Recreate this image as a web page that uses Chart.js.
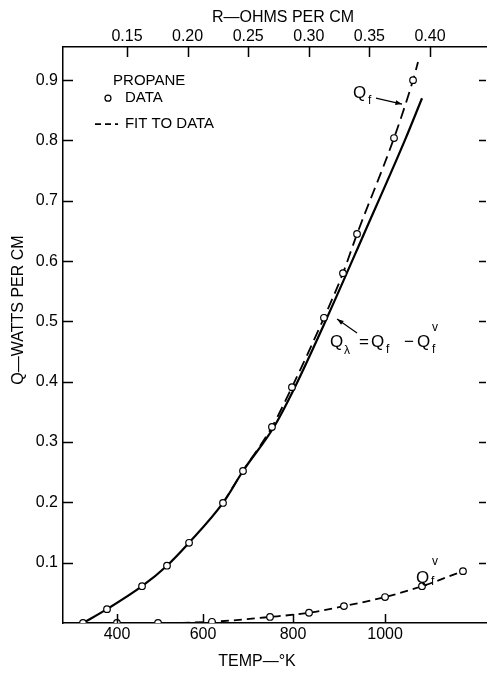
<!DOCTYPE html>
<html><head><meta charset="utf-8">
<script src="https://cdn.jsdelivr.net/npm/chart.js@4/dist/chart.umd.min.js"></script>
<style>html,body{margin:0;padding:0;background:#fff;}canvas{display:block;}</style>
</head><body>
<canvas id="c" width="487" height="673"></canvas>
<script>
// ---- tick labels / axes ----
const rTickValues = [0.15, 0.20, 0.25, 0.30, 0.35, 0.40];          // top axis: R - ohms per cm
const tempTickLabels = ['400', '600', '800', '1000'];                 // bottom axis: temp - °K
const tempTickR = [0.1418, 0.2127, 0.2870, 0.3629];                   // R where each temperature tick sits
const qTickValues = [0.1, 0.2, 0.3, 0.4, 0.5, 0.6, 0.7, 0.8, 0.9];   // Q - watts per cm

// ---- series (x = R ohms per cm, y = Q watts per cm) ----
const qfDataR = [0.1137, 0.1335, 0.1624, 0.1830, 0.2012, 0.2292, 0.2457, 0.2696, 0.2861, 0.3125, 0.3282, 0.3398, 0.3703, 0.3860];
const qfDataQ = [0.000, 0.023, 0.061, 0.095, 0.133, 0.199, 0.252, 0.325, 0.391, 0.506, 0.580, 0.645, 0.804, 0.900];

const qfvDataR = [0.1417, 0.1756, 0.2201, 0.2680, 0.3002, 0.3290, 0.3629, 0.3934, 0.4272];
const qfvDataQ = [0.000, 0.000, 0.002, 0.010, 0.017, 0.028, 0.043, 0.061, 0.086];

const qfFitR = [0.2292, 0.2457, 0.2696, 0.2861, 0.3125, 0.3282, 0.3398, 0.3703, 0.3860, 0.3901];
const qfFitQ = [0.199, 0.252, 0.325, 0.391, 0.506, 0.580, 0.645, 0.804, 0.900, 0.930];

const qLambdaR = [0.1137, 0.1335, 0.1624, 0.1830, 0.2012, 0.2292, 0.2457, 0.2712, 0.2885, 0.3150, 0.3455, 0.3794, 0.3934];
const qLambdaQ = [0.000, 0.023, 0.061, 0.095, 0.133, 0.199, 0.252, 0.325, 0.391, 0.506, 0.645, 0.801, 0.870];

const xMin = 0.0972, xMax = 0.4462, yMin = 0, yMax = 0.955;

const pts = (xs, ys) => xs.map((x, i) => ({x: x, y: ys[i]}));
const FONT = "'Liberation Sans', Arial, sans-serif";

const decor = {
  id: 'decor',
  afterDraw(chart) {
    const ctx = chart.ctx;
    const xs = chart.scales.x, ys = chart.scales.y;
    const X = v => xs.getPixelForValue(v), Y = v => ys.getPixelForValue(v);
    const a = chart.chartArea;
    ctx.save();
    ctx.strokeStyle = '#000'; ctx.fillStyle = '#000'; ctx.lineWidth = 1.5;
    // inward tick marks
    ctx.beginPath();
    qTickValues.forEach(v => {
      const y = Math.round(Y(v)) + 0.5;
      ctx.moveTo(a.left, y); ctx.lineTo(a.left + 10, y);
      ctx.moveTo(a.right - 7, y); ctx.lineTo(a.right, y);
    });
    rTickValues.forEach(v => { const x = Math.round(X(v)) + 0.5; ctx.moveTo(x, a.top); ctx.lineTo(x, a.top + 10); });
    tempTickR.forEach(v => { const x = Math.round(X(v)) + 0.5; ctx.moveTo(x, a.bottom); ctx.lineTo(x, a.bottom - 9); });
    ctx.stroke();

    // axis titles
    ctx.font = '16px ' + FONT; ctx.textBaseline = 'middle'; ctx.textAlign = 'center';
    ctx.fillText('R\u2014OHMS PER CM', 283, 18);
    ctx.fillText('TEMP\u2014\u00B0K', 257, 662);
    ctx.save(); ctx.translate(19, 310); ctx.rotate(-Math.PI / 2);
    ctx.fillText('Q\u2014WATTS PER CM', 0, 0); ctx.restore();

    // legend
    ctx.font = '15px ' + FONT; ctx.textAlign = 'left';
    ctx.fillText('PROPANE', X(0.1385), Y(0.8984));
    ctx.fillText('DATA', X(0.1483), Y(0.8702));
    ctx.fillText('FIT TO DATA', X(0.1483), Y(0.8271));
    ctx.beginPath(); ctx.lineWidth = 1.2; ctx.fillStyle = '#fff';
    ctx.arc(X(0.1343), Y(0.8702), 3, 0, Math.PI * 2); ctx.fill(); ctx.stroke();
    ctx.fillStyle = '#000';
    ctx.beginPath(); ctx.lineWidth = 1.8; ctx.setLineDash([6, 4]);
    ctx.moveTo(X(0.1236), Y(0.8271)); ctx.lineTo(X(0.1426), Y(0.8271)); ctx.stroke();
    ctx.setLineDash([]);

    // annotations
    ctx.textBaseline = 'alphabetic';
    const big = '17px ' + FONT, small = '12px ' + FONT;
    const txt = (s, f, r, q) => { ctx.font = f; ctx.fillText(s, X(r), Y(q)); };
    const arrow = (r0, q0, r1, q1) => {
      const x0 = X(r0), y0 = Y(q0), x1 = X(r1), y1 = Y(q1);
      ctx.lineWidth = 1.2; ctx.beginPath(); ctx.moveTo(x0, y0); ctx.lineTo(x1, y1); ctx.stroke();
      const ang = Math.atan2(y1 - y0, x1 - x0), L = 7, W = 0.35;
      ctx.beginPath(); ctx.moveTo(x1, y1);
      ctx.lineTo(x1 - L * Math.cos(ang - W), y1 - L * Math.sin(ang - W));
      ctx.lineTo(x1 - L * Math.cos(ang + W), y1 - L * Math.sin(ang + W));
      ctx.closePath(); ctx.fill();
    };
    // Q_f
    txt('Q', big, 0.3365, 0.8702); txt('f', small, 0.3489, 0.8603);
    arrow(0.3554, 0.8702, 0.3769, 0.8603);
    // Q_lambda = Q_f - Q_f^v
    txt('Q', big, 0.3175, 0.4575); txt('\u03BB', small, 0.3290, 0.4459);
    txt('=', big, 0.3414, 0.4575);
    txt('Q', big, 0.3513, 0.4575); txt('f', small, 0.3637, 0.4475);
    txt('\u2212', big, 0.3786, 0.4575);
    txt('Q', big, 0.3893, 0.4575); txt('v', small, 0.4017, 0.4840); txt('f', small, 0.4017, 0.4475);
    arrow(0.3398, 0.4807, 0.3233, 0.5039);
    // Q_f^v
    txt('Q', big, 0.3885, 0.0663); txt('v', small, 0.4017, 0.0961); txt('f', small, 0.4008, 0.0630);
    ctx.restore();
  }
};

new Chart(document.getElementById('c'), {
  type: 'line',
  data: {
    datasets: [
      { label: 'Q_f data', data: pts(qfDataR, qfDataQ), showLine: false, order: 0,
        pointRadius: 3.3, pointBackgroundColor: '#fff', pointBorderColor: '#000', pointBorderWidth: 1.2 },
      { label: 'Q_f^v data', data: pts(qfvDataR, qfvDataQ), showLine: false, order: 1,
        pointRadius: 3.3, pointBackgroundColor: '#fff', pointBorderColor: '#000', pointBorderWidth: 1.2 },
      { label: 'Q_lambda', data: pts(qLambdaR, qLambdaQ), order: 2, borderColor: '#000', borderWidth: 2.2,
        pointRadius: 0, cubicInterpolationMode: 'monotone', fill: false },
      { label: 'Q_f fit', data: pts(qfFitR, qfFitQ), order: 3, borderColor: '#000', borderWidth: 1.8,
        borderDash: [11, 6], pointRadius: 0, cubicInterpolationMode: 'monotone', fill: false },
      { label: 'Q_f^v fit', data: pts(qfvDataR, qfvDataQ), order: 4, borderColor: '#000', borderWidth: 1.8,
        borderDash: [8, 5], pointRadius: 0, cubicInterpolationMode: 'monotone', fill: false }
    ]
  },
  options: {
    responsive: false, animation: false, devicePixelRatio: 1,
    layout: { autoPadding: false, padding: { left: 0, right: 1, top: 0, bottom: 0 } },
    plugins: { legend: { display: false }, tooltip: { enabled: false } },
    scales: {
      x: {
        type: 'linear', position: 'top', min: xMin, max: xMax,
        afterBuildTicks: s => { s.ticks = rTickValues.map(v => ({ value: v })); },
        afterFit: s => { s.height = 47; },
        grid: { display: false, drawTicks: false },
        border: { display: true, color: '#000', width: 1.5 },
        ticks: { color: '#000', font: { family: FONT, size: 16 }, padding: 1, maxRotation: 0, autoSkip: false,
                 callback: v => Number(v).toFixed(2) }
      },
      xb: {
        type: 'linear', position: 'bottom', min: xMin, max: xMax,
        afterBuildTicks: s => { s.ticks = tempTickR.map(v => ({ value: v })); },
        afterFit: s => { s.height = 50; },
        grid: { display: false, drawTicks: false },
        border: { display: true, color: '#000', width: 1.5 },
        ticks: { color: '#000', font: { family: FONT, size: 16 }, padding: 2, maxRotation: 0, autoSkip: false,
                 callback: (v, i) => tempTickLabels[i] }
      },
      y: {
        type: 'linear', position: 'left', min: yMin, max: yMax,
        afterBuildTicks: s => { s.ticks = qTickValues.map(v => ({ value: v })); },
        afterFit: s => { s.width = 63; },
        grid: { display: false, drawTicks: false },
        border: { display: true, color: '#000', width: 1.5 },
        ticks: { color: '#000', font: { family: FONT, size: 16 }, padding: 5, autoSkip: false,
                 callback: v => Number(v).toFixed(1) }
      }
    }
  },
  plugins: [decor]
});
</script>
</body></html>
